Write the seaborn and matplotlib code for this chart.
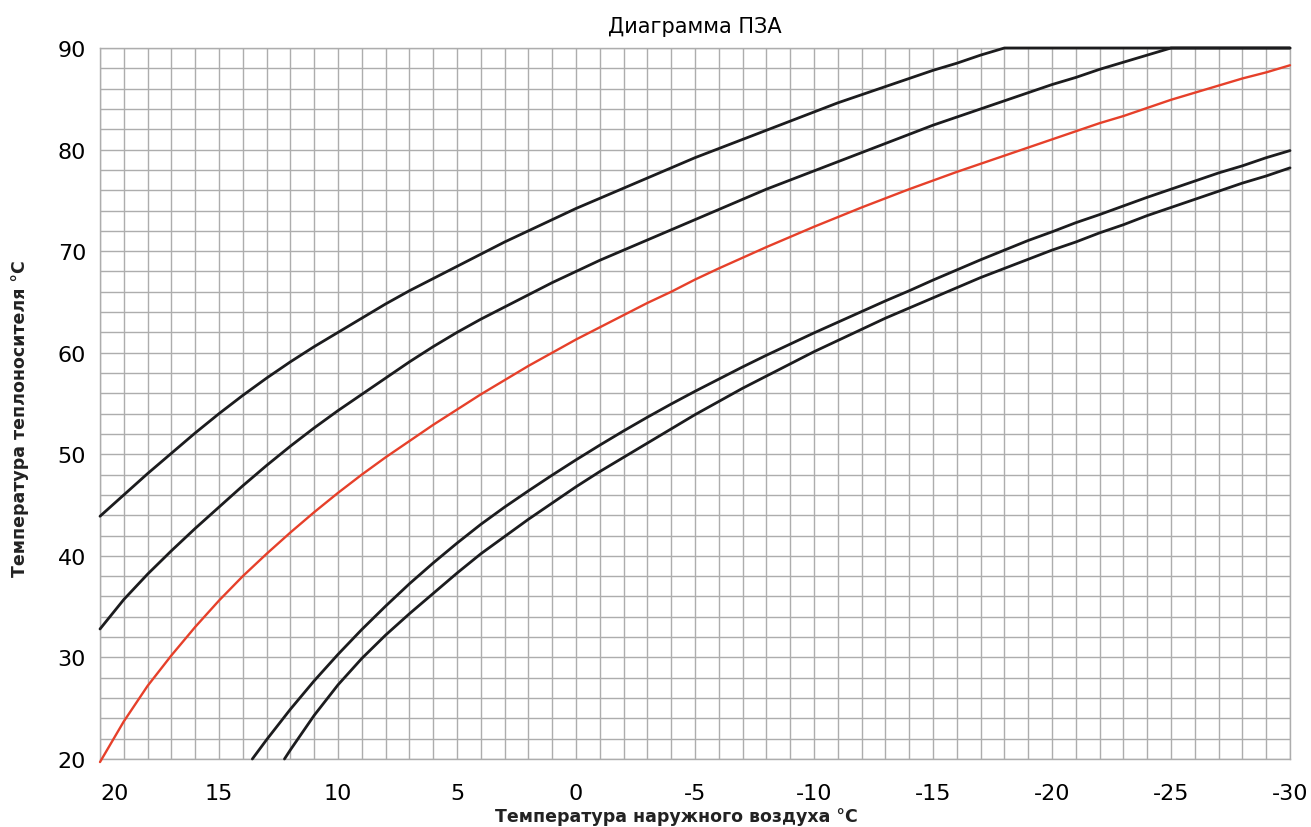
import matplotlib
matplotlib.use("Agg")
import matplotlib.pyplot as plt
import seaborn as sns
from matplotlib.ticker import MultipleLocator

# ======================================
# DATA
outdoor_t = list(range(20, -31, -1))

curve_1 = [43.9, 46.0, 48.1, 50.1, 52.1, 54.0, 55.8, 57.5, 59.1, 60.6,
           62.0, 63.4, 64.8, 66.1, 67.3, 68.5, 69.7, 70.9, 72.0, 73.1,
           74.2, 75.2, 76.2, 77.2, 78.2, 79.2, 80.1, 81.0, 81.9, 82.8,
           83.7, 84.6, 85.4, 86.2, 87.0, 87.8, 88.5, 89.3, 90.0, 90.0,
           90.0, 90.0, 90.0, 90.0, 90.0, 90.0, 90.0, 90.0, 90.0, 90.0, 90.0]

curve_2 = [32.8, 35.7, 38.2, 40.5, 42.7, 44.8, 46.9, 48.9, 50.8, 52.6,
           54.3, 55.9, 57.5, 59.1, 60.6, 62.0, 63.3, 64.5, 65.7, 66.9,
           68.0, 69.1, 70.1, 71.1, 72.1, 73.1, 74.1, 75.1, 76.1, 77.0,
           77.9, 78.8, 79.7, 80.6, 81.5, 82.4, 83.2, 84.0, 84.8, 85.6,
           86.4, 87.1, 87.9, 88.6, 89.3, 90.0, 90.0, 90.0, 90.0, 90.0, 90.0]

curve_red = [19.7, 23.7, 27.2, 30.2, 33.0, 35.6, 38.0, 40.2, 42.3, 44.3,
             46.2, 48.0, 49.7, 51.3, 52.9, 54.4, 55.9, 57.3, 58.7, 60.0,
             61.3, 62.5, 63.7, 64.9, 66.0, 67.2, 68.3, 69.35, 70.4, 71.4,
             72.4, 73.35, 74.3, 75.2, 76.1, 76.95, 77.8, 78.6, 79.4, 80.2,
             81.0, 81.8, 82.6, 83.3, 84.1, 84.9, 85.6, 86.3, 87.0, 87.6, 88.3]

curve_4_t = [13.6] + list(range(13, -31, -1))
curve_4 = [20.0, 21.9, 24.9, 27.7, 30.3, 32.75, 35.05, 37.25, 39.3, 41.25,
           43.1, 44.8, 46.4, 47.95, 49.45, 50.9, 52.3, 53.65, 54.95, 56.2,
           57.4, 58.6, 59.75, 60.85, 61.95, 63.0, 64.05, 65.1, 66.1, 67.15,
           68.15, 69.15, 70.1, 71.05, 71.9, 72.8, 73.6, 74.45, 75.3, 76.1,
           76.9, 77.7, 78.4, 79.2, 79.9]

curve_5_t = [12.25] + list(range(12, -31, -1))
curve_5 = [20.0, 20.9, 24.3, 27.3, 29.9, 32.2, 34.3, 36.3, 38.3, 40.2,
           41.9, 43.6, 45.2, 46.8, 48.3, 49.7, 51.1, 52.5, 53.9, 55.2,
           56.5, 57.7, 58.9, 60.1, 61.2, 62.3, 63.4, 64.4, 65.4, 66.4,
           67.4, 68.3, 69.2, 70.1, 70.9, 71.8, 72.6, 73.5, 74.3, 75.1,
           75.9, 76.7, 77.4, 78.2]

x_ticks = [20, 15, 10, 5, 0, -5, -10, -15, -20, -25, -30]
x_tick_labels = ["20", "15", "10", "5", "0", "-5", "-10", "-15", "-20", "-25", "-30"]
y_ticks = [20, 30, 40, 50, 60, 70, 80, 90]

# ======================================
# STYLE
sns.set_theme(style="whitegrid")
plt.rcParams['font.family'] = ['DejaVu Sans']

BLACK = "#1c1c1e"
RED = "#e6402a"
GRID = "#adadad"

fig = plt.figure(figsize=(13.11, 8.28), dpi=100)
ax = fig.add_axes([100 / 1311, 68 / 828, 1190 / 1311, 711 / 828])

# ======================================
# CURVES
series = [
    (outdoor_t, curve_1, BLACK, 2.0),
    (outdoor_t, curve_2, BLACK, 2.0),
    (outdoor_t, curve_red, RED, 1.7),
    (curve_4_t, curve_4, BLACK, 2.0),
    (curve_5_t, curve_5, BLACK, 2.0),
]
for xs, ys, col, lw in series:
    sns.lineplot(x=xs, y=ys, ax=ax, color=col, linewidth=lw, sort=False)

for ln in ax.lines:
    ln.set_clip_on(False)
    ln.set_zorder(3)
    ln.set_solid_joinstyle("round")

# ======================================
# AXES
ax.set_xlim(20, -30)
ax.set_ylim(20, 90)
ax.set_xticks(x_ticks, labels=x_tick_labels)
ax.set_yticks(y_ticks)
ax.xaxis.set_minor_locator(MultipleLocator(1))
ax.yaxis.set_minor_locator(MultipleLocator(2))
ax.grid(which="both", color=GRID, linewidth=1.0)
ax.set_axisbelow(True)
ax.tick_params(axis="both", which="both", length=0, labelsize=16, colors="black")
ax.tick_params(axis="x", pad=17)
ax.tick_params(axis="y", pad=10)
ax.get_xticklabels()[0].set_horizontalalignment("left")
for sp in ax.spines.values():
    sp.set_color(GRID)
    sp.set_linewidth(1.0)
ax.set_xlabel("")
ax.set_ylabel("")

fig.text(695 / 1311, 1 - 27 / 828, "Диаграмма ПЗА", ha="center", va="center",
         fontsize=15, color="black")
fig.text(676 / 1311, 1 - 817 / 828, "Температура наружного воздуха °С",
         ha="center", va="center", fontsize=12.5, fontweight="bold", color="#222222")
fig.text(20 / 1311, 1 - 419 / 828, "Температура теплоносителя °С",
         ha="center", va="center", rotation=90, fontsize=12.5, fontweight="bold",
         color="#222222")

fig.savefig("out.png", dpi=100)
